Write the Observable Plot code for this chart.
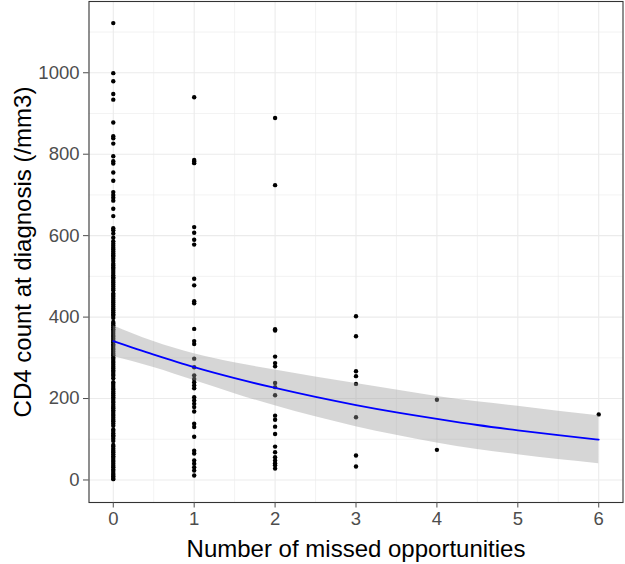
<!DOCTYPE html>
<html>
<head>
<meta charset="utf-8">
<script src="https://cdn.jsdelivr.net/npm/d3@7"></script>
<script src="https://cdn.jsdelivr.net/npm/@observablehq/plot@0.6"></script>
<style>
  html, body { margin: 0; padding: 0; background: #fff; }
  #chart svg { display: block; }
</style>
</head>
<body>
<div id="chart"></div>
<script>
// CD4 counts at diagnosis, grouped by number of missed opportunities
const cd4_0 = [1122, 999, 979, 948, 934, 878, 844, 839, 826, 795, 783, 777, 755, 735, 707, 700, 693, 686, 666, 648, 618, 613, 605, 595, 586,
  580, 575, 570, 566, 561, 556, 552, 548, 543, 538, 531, 527, 522, 518, 513, 508, 503, 498, 494, 489, 485, 480, 475, 470, 466,
  458, 454, 450, 445, 440, 436, 431, 426, 421, 417, 412, 407, 403, 398, 388, 384, 380, 375, 370, 366, 361, 356, 352, 347, 342,
  338, 333, 329, 324, 320, 315, 310, 306, 301, 297, 292, 288, 283, 278, 274, 269, 265, 260, 256, 250, 240, 236, 231, 226, 222,
  217, 213, 208, 203, 199, 194, 190, 185, 180, 176, 171, 167, 162, 158, 153, 148, 144, 139, 133, 124, 120, 115, 110, 106, 101,
  96, 86, 82, 77, 72, 68, 63, 58, 54, 49, 45, 40, 35, 31, 26, 22, 17, 13, 9, 5, 2];
const cd4_1 = [940, 786, 782, 778, 621, 607, 590, 578, 494, 478, 439, 434, 371, 341, 334, 298, 277, 257, 248, 240, 232, 225,
  203, 195, 187, 179, 168, 138, 130, 106, 72, 65, 48, 40, 31, 23, 11];
const cd4_2 = [889, 724, 370, 367, 303, 287, 279, 238, 228, 208, 158, 148, 131, 113, 82, 68, 56, 48, 41, 36, 28];
const cd4_3 = [402, 353, 267, 255, 236, 154, 60, 33];
const cd4_4 = [197, 74];
const cd4_5 = [];
const cd4_6 = [161];
const groups = [0, 1, 2, 3, 4, 5, 6];
const groupValues = [cd4_0, cd4_1, cd4_2, cd4_3, cd4_4, cd4_5, cd4_6];

// fitted smooth curve with confidence band
const fitX  = [0, 0.5, 1, 1.5, 2, 2.5, 3, 3.5, 4, 4.5, 5, 5.5, 6];
const fitY  = [341, 308, 277, 250, 226, 204, 184, 166, 150, 135, 122, 110, 99];
const fitLo = [303, 276, 244, 212, 182, 155, 131, 110, 91, 75, 62, 50, 40];
const fitHi = [379, 340, 310, 288, 270, 253, 237, 221, 205, 192, 181, 169, 158];

// axes
const xTicks = [0, 1, 2, 3, 4, 5, 6];
const xMinor = [0.5, 1.5, 2.5, 3.5, 4.5, 5.5];
const yTicks = [0, 200, 400, 600, 800, 1000];
const yMinor = [100, 300, 500, 700, 900, 1100];
const xTitle = "Number of missed opportunities";
const yTitle = "CD4 count at diagnosis (/mm3)";

const points = groups.flatMap((g, i) => groupValues[i].map(v => ({x: g, y: v})));
const fit = fitX.map((x, i) => ({x, y: fitY[i], lo: fitLo[i], hi: fitHi[i]}));

const grid = "#EBEBEB";
const chart = Plot.plot({
  width: 625,
  height: 564,
  marginLeft: 88.5,
  marginRight: 2.5,
  marginTop: 1,
  marginBottom: 62,
  style: {fontFamily: "Liberation Sans, Arial, sans-serif", background: "#fff"},
  x: {domain: [-0.3, 6.3]},
  y: {domain: [-55.3, 1175]},
  marks: [
    Plot.ruleX(xMinor, {stroke: grid, strokeWidth: 0.6}),
    Plot.ruleY(yMinor, {stroke: grid, strokeWidth: 0.6}),
    Plot.ruleX(xTicks, {stroke: grid, strokeWidth: 1.1}),
    Plot.ruleY(yTicks, {stroke: grid, strokeWidth: 1.1}),
    Plot.dot(points, {x: "x", y: "y", r: 2.2, fill: "black", stroke: "none"}),
    Plot.areaY(fit, {x: "x", y1: "lo", y2: "hi", fill: "#999999", fillOpacity: 0.4, curve: "monotone-x"}),
    Plot.line(fit, {x: "x", y: "y", stroke: "#0000FF", strokeWidth: 1.8, curve: "monotone-x"}),
    Plot.frame({stroke: "#333333", strokeWidth: 1.1}),
    Plot.axisX(xTicks, {tickSize: 5.5, tickPadding: 4, fontSize: 18.5, color: "#4D4D4D", label: null, tickFormat: d => String(d)}),
    Plot.axisY(yTicks, {tickSize: 5.5, tickPadding: 4, fontSize: 18.5, color: "#4D4D4D", label: null, tickFormat: d => String(d)}),
    Plot.text([xTitle], {frameAnchor: "bottom", lineAnchor: "middle", textAnchor: "middle", dy: 47, fontSize: 24, fill: "black"}),
    Plot.text([yTitle], {frameAnchor: "left", lineAnchor: "middle", textAnchor: "middle", dx: -66, rotate: -90, fontSize: 24, fill: "black"})
  ]
});
document.getElementById("chart").appendChild(chart);
</script>
</body>
</html>
